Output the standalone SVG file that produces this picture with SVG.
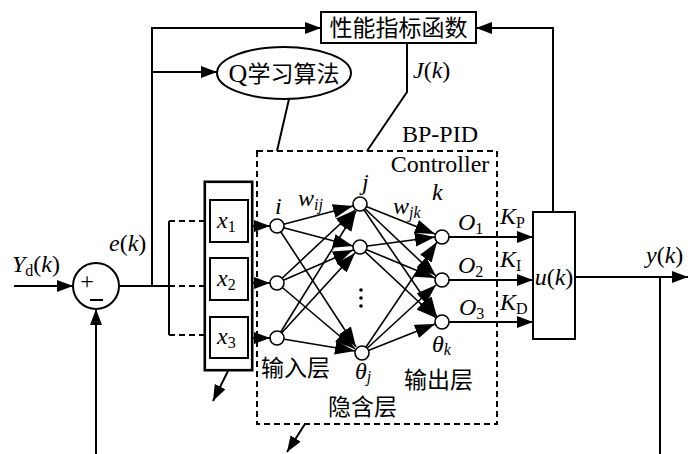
<svg xmlns="http://www.w3.org/2000/svg" width="688" height="454" viewBox="0 0 688 454">
<defs>
<marker id="ah" markerUnits="userSpaceOnUse" markerWidth="18" markerHeight="14" refX="16" refY="6" orient="auto"><path d="M0,0 L16,6 L0,12 Z" fill="#000"/></marker>
<marker id="ahn" markerUnits="userSpaceOnUse" markerWidth="22" markerHeight="16" refX="20" refY="7" orient="auto"><path d="M0,0 L20,7 L0,14 Z" fill="#000"/></marker>
<style>
.ln{stroke:#000;stroke-width:2;fill:none}
.dash{stroke:#000;stroke-width:2;fill:none;stroke-dasharray:6,4}
.box{stroke:#000;stroke-width:2;fill:#fff}
.node{stroke:#000;stroke-width:1.6;fill:#fff}
.cn{font-family:"Noto Sans CJK SC",sans-serif;font-size:23px;fill:#000}
.rm{font-family:"Liberation Serif",serif;font-size:24px;fill:#000}
.it{font-family:"Liberation Serif",serif;font-style:italic;font-size:24px;fill:#000}
.sub{font-size:16px}
</style>
</defs>
<g id="connectors">
<line class="ln" x1="14" y1="286" x2="73" y2="286" marker-end="url(#ah)"/>
<line class="ln" x1="96" y1="454" x2="96" y2="309" marker-end="url(#ah)"/>
<line class="ln" x1="119" y1="286" x2="169" y2="286"/>
<line class="dash" x1="169" y1="286" x2="209" y2="286"/>
<line class="ln" x1="169" y1="221" x2="169" y2="335"/>
<line class="dash" x1="169" y1="221" x2="209" y2="221"/>
<line class="dash" x1="169" y1="335" x2="209" y2="335"/>
<polyline class="ln" points="152,286 152,28 321,28" marker-end="url(#ah)"/>
<line class="ln" x1="152" y1="72" x2="217" y2="72" marker-end="url(#ah)"/>
<line class="ln" x1="289" y1="99" x2="277" y2="151"/>
<polyline class="ln" points="407,43 407,92 367,151"/>
<polyline class="ln" points="553,212 553,28 476,28" marker-end="url(#ah)"/>
<line class="ln" x1="575" y1="277" x2="688" y2="277" marker-end="url(#ah)"/>
<line class="ln" x1="660" y1="277" x2="660" y2="454"/>
<line class="ln" x1="228" y1="371" x2="213" y2="401" marker-end="url(#ah)"/>
<line class="ln" x1="305" y1="424" x2="287" y2="452" marker-end="url(#ah)"/>
<line class="ln" x1="248" y1="226" x2="270" y2="226" marker-end="url(#ah)"/>
<line class="ln" x1="248" y1="283" x2="270" y2="283" marker-end="url(#ah)"/>
<line class="ln" x1="248" y1="338" x2="270" y2="338" marker-end="url(#ah)"/>
<g stroke="#000" stroke-width="1.6" fill="none">
<line x1="277" y1="226" x2="353" y2="206" marker-end="url(#ahn)"/>
<line x1="277" y1="226" x2="353" y2="246" marker-end="url(#ahn)"/>
<line x1="277" y1="226" x2="356" y2="347" marker-end="url(#ahn)"/>
<line x1="277" y1="283" x2="355" y2="210" marker-end="url(#ahn)"/>
<line x1="277" y1="283" x2="353" y2="250" marker-end="url(#ahn)"/>
<line x1="277" y1="283" x2="355" y2="349" marker-end="url(#ahn)"/>
<line x1="277" y1="338" x2="356" y2="211" marker-end="url(#ahn)"/>
<line x1="277" y1="338" x2="355" y2="253" marker-end="url(#ahn)"/>
<line x1="277" y1="338" x2="355" y2="351" marker-end="url(#ahn)"/>
<line x1="360" y1="204" x2="435" y2="234" marker-end="url(#ahn)"/>
<line x1="360" y1="204" x2="436" y2="276" marker-end="url(#ahn)"/>
<line x1="360" y1="204" x2="437" y2="317" marker-end="url(#ahn)"/>
<line x1="360" y1="247" x2="435" y2="237" marker-end="url(#ahn)"/>
<line x1="360" y1="247" x2="435" y2="278" marker-end="url(#ahn)"/>
<line x1="360" y1="247" x2="436" y2="318" marker-end="url(#ahn)"/>
<line x1="362" y1="353" x2="437" y2="242" marker-end="url(#ahn)"/>
<line x1="362" y1="353" x2="436" y2="285" marker-end="url(#ahn)"/>
<line x1="362" y1="353" x2="435" y2="324" marker-end="url(#ahn)"/>
</g>
<line class="ln" x1="449" y1="237" x2="533" y2="237" marker-end="url(#ah)"/>
<line class="ln" x1="449" y1="280" x2="533" y2="280" marker-end="url(#ah)"/>
<line class="ln" x1="449" y1="322" x2="533" y2="322" marker-end="url(#ah)"/>
</g>
<g id="perf">
<rect class="box" x="321" y="12" width="155" height="31"/>
<text class="cn" x="398.5" y="36" text-anchor="middle" font-size="24">性能指标函数</text>
</g>
<g id="qlearn">
<ellipse class="box" cx="284" cy="73" rx="67" ry="26"/>
<text class="cn" x="284" y="82" text-anchor="middle" font-size="24"><tspan font-family="Liberation Serif" font-size="26">Q</tspan>学习算法</text>
</g>
<g id="sum">
<circle class="box" cx="96" cy="286" r="23"/>
<text class="rm" x="87" y="289" text-anchor="middle" font-size="22">+</text>
<line class="ln" x1="90" y1="300" x2="103" y2="300" stroke-width="1.5"/>
</g>
<g id="bppid">
<rect x="257" y="151" width="240" height="273" fill="none" class="dash"/>
<text class="rm" x="440" y="142" text-anchor="middle">BP-PID</text>
<text class="rm" x="440" y="172" text-anchor="middle">Controller</text>
</g>
<g id="inputs">
<rect x="205" y="182" width="47" height="188" fill="#fff" stroke="#000" stroke-width="3"/>
<rect x="206.5" y="183.5" width="44" height="185" fill="none" stroke="#fff" stroke-width="0.8"/>
<rect class="box" x="210" y="200" width="38" height="42"/>
<rect class="box" x="210" y="258" width="38" height="42"/>
<rect class="box" x="210" y="317" width="38" height="41"/>
<text class="it" x="217" y="228">x<tspan class="sub" font-style="normal" dy="4">1</tspan></text>
<text class="it" x="217" y="286">x<tspan class="sub" font-style="normal" dy="4">2</tspan></text>
<text class="it" x="217" y="344">x<tspan class="sub" font-style="normal" dy="4">3</tspan></text>
</g>
<g id="inlayer">
<circle class="node" cx="277" cy="226" r="7"/>
<circle class="node" cx="277" cy="283" r="7"/>
<circle class="node" cx="277" cy="338" r="7"/>
<text class="it" x="275" y="214">i</text>
<text class="it" x="298" y="206">w<tspan class="sub" dy="4">ij</tspan></text>
<text class="cn" x="261" y="376">输入层</text>
</g>
<g id="hidden">
<circle class="node" cx="360" cy="204" r="7"/>
<circle class="node" cx="360" cy="247" r="7"/>
<circle class="node" cx="362" cy="353" r="7"/>
<circle cx="361" cy="290" r="1.8" fill="#000"/>
<circle cx="361" cy="298" r="1.8" fill="#000"/>
<circle cx="361" cy="306" r="1.8" fill="#000"/>
<text class="it" x="362" y="190">j</text>
<text class="it" x="355" y="379">θ<tspan class="sub" dy="3">j</tspan></text>
<text class="cn" x="328" y="415">隐含层</text>
</g>
<g id="outlayer">
<circle class="node" cx="442" cy="237" r="7"/>
<circle class="node" cx="442" cy="280" r="7"/>
<circle class="node" cx="442" cy="322" r="7"/>
<text class="it" x="432" y="200">k</text>
<text class="it" x="393" y="214">w<tspan class="sub" dy="4">jk</tspan></text>
<text class="it" x="432" y="352">θ<tspan class="sub" dy="3">k</tspan></text>
<text class="it" x="458" y="230">O<tspan class="sub" font-style="normal" dy="4">1</tspan></text>
<text class="it" x="458" y="273">O<tspan class="sub" font-style="normal" dy="4">2</tspan></text>
<text class="it" x="459" y="315">O<tspan class="sub" font-style="normal" dy="4">3</tspan></text>
<text class="cn" x="404" y="388">输出层</text>
</g>
<g id="ublock">
<rect class="box" x="533" y="212" width="42" height="127"/>
<text class="it" x="554" y="285" text-anchor="middle" font-size="23">u<tspan font-style="normal">(</tspan>k<tspan font-style="normal">)</tspan></text>
<text class="it" x="500" y="224">K<tspan class="sub" font-style="normal" dy="4">P</tspan></text>
<text class="it" x="500" y="267">K<tspan class="sub" font-style="normal" dy="4">I</tspan></text>
<text class="it" x="500" y="310">K<tspan class="sub" font-style="normal" dy="4">D</tspan></text>
</g>
<g id="labels">
<text class="it" x="12" y="272">Y<tspan class="sub" font-style="normal" dy="4">d</tspan><tspan font-style="normal" dy="-4">(</tspan>k<tspan font-style="normal">)</tspan></text>
<text class="it" x="109" y="251">e<tspan font-style="normal">(</tspan>k<tspan font-style="normal">)</tspan></text>
<text class="it" x="413" y="78">J<tspan font-style="normal">(</tspan>k<tspan font-style="normal">)</tspan></text>
<text class="it" x="646" y="263">y<tspan font-style="normal">(</tspan>k<tspan font-style="normal">)</tspan></text>
</g>
</svg>
